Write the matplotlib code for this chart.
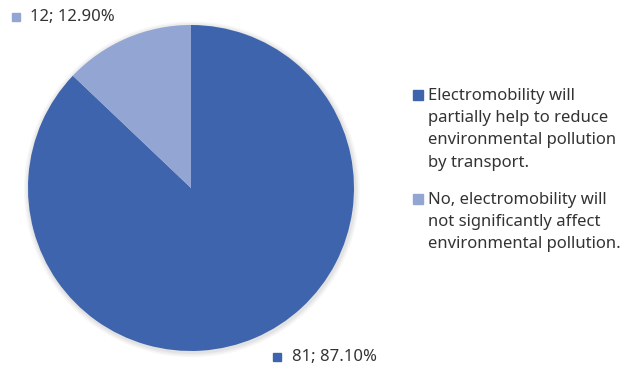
import matplotlib.pyplot as plt
from matplotlib.patches import Rectangle, Circle

labels = [
    "Electromobility will\npartially help to reduce\nenvironmental pollution\nby transport.",
    "No, electromobility will\nnot significantly affect\nenvironmental pollution.",
]
counts = [81, 12]
percents = [87.10, 12.90]
colors = ["#3E64AD", "#93A5D3"]

plt.rcParams["font.family"] = ["Noto Sans", "DejaVu Sans"]

W, H = 625, 370
fig = plt.figure(figsize=(W / 100, H / 100), dpi=100)


def px(x, y):
    # pixel coords from top-left -> figure fraction
    return x / W, 1 - y / H


# pie axes: centre (191, 188), radius 163 px
ax = fig.add_axes([28 / W - 326 * 0.05 / 2 / W, 19 / H - 326 * 0.05 / 2 / H,
                   326 * 1.05 / W, 326 * 1.05 / H])
# soft shadow
for r, a in [(1.03, 0.08), (1.02, 0.10), (1.01, 0.12)]:
    ax.add_patch(Circle((0.005, -0.008), r, color="#9a9a9a", alpha=a,
                        linewidth=0, zorder=0))
ax.pie(counts, colors=colors, startangle=90, counterclock=False,
       wedgeprops=dict(linewidth=0), radius=1)
ax.set_xlim(-1.05, 1.05)
ax.set_ylim(-1.05, 1.05)
ax.set_aspect("equal")
ax.axis("off")

fs = 12
tc = "#333333"


def marker(x, y, c, s=9):
    x0, y0 = px(x, y + s / 2)
    fig.add_artist(Rectangle((x0, y0), s / W, s / H, color=c,
                             transform=fig.transFigure))


# data labels (marker x, text x, y)
label_pos = [(273, 292, 357), (12, 30, 17)]
for (mx, tx, y), n, p, c in zip(label_pos, counts, percents, colors):
    marker(mx, y, c, s=8)
    fig.text(*px(tx, y), f"{n}; {p:.2f}%", fontsize=fs, va="center",
             color=tc)

# legend
legend_y = [95, 199]
for y, lab, c in zip(legend_y, labels, colors):
    marker(413, y, c, s=10)
    fig.text(*px(428, y - 7), lab, fontsize=fs, va="top", ha="left",
             color=tc, linespacing=1.52)

fig.savefig("out.png", dpi=100)
